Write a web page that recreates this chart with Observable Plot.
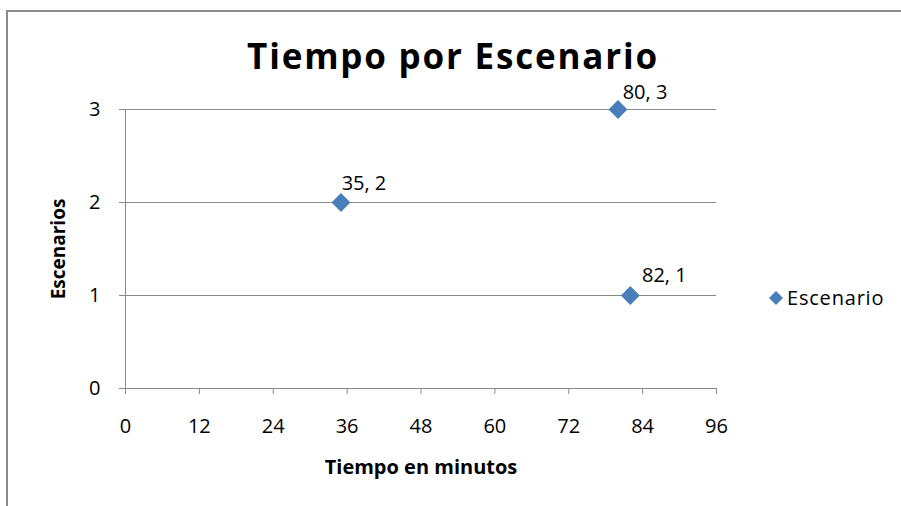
<!DOCTYPE html>
<html><head><meta charset="utf-8">
<script src="https://cdn.jsdelivr.net/npm/d3@7"></script>
<script src="https://cdn.jsdelivr.net/npm/@observablehq/plot@0.6"></script>
<style>
html,body{margin:0;padding:0;background:#fff;overflow:hidden;width:901px;height:506px;}
#wrap{position:relative;width:901px;height:506px;font-family:"Open Sans",sans-serif;}
#frame{position:absolute;left:6px;top:10px;width:1000px;height:600px;border-left:2px solid #8c8c8c;border-top:2px solid #8c8c8c;}
#title{position:absolute;left:0;width:906px;top:32px;text-align:center;font-weight:bold;font-size:35px;color:#000;letter-spacing:1.8px;}
#legend{position:absolute;left:768px;top:284px;font-size:20px;color:#000;display:flex;align-items:center;letter-spacing:0.8px;}
#legend svg{margin-right:3px;}
#chart{position:absolute;left:0;top:0;}
</style></head>
<body><div id="wrap"><div id="frame"></div><div id="chart"></div>
<div id="title">Tiempo por Escenario</div>
<div id="legend"><svg width="16" height="16"><path d="M8 1 L15 8 L8 15 L1 8 Z" fill="#4a7ebb"/></svg>Escenario</div>
</div>
<script>
const seriesName = "Escenario";
const tiempo = [82, 35, 80];
const escenario = [1, 2, 3];
const xTicks = [0, 12, 24, 36, 48, 60, 72, 84, 96];
const yTicks = [0, 1, 2, 3];
const xLabel = "Tiempo en minutos";
const yLabel = "Escenarios";

const data = tiempo.map((t, i) => ({x: t, y: escenario[i], label: `${t}, ${escenario[i]}`}));
const blue = "#4a7ebb";
const grid = "#8a8a8a";
const labelOffsets = [[34, -20], [23, -19], [27, -17]];

const plot = Plot.plot({
  width: 901, height: 506,
  marginLeft: 125, marginRight: 185, marginTop: 109, marginBottom: 118,
  style: {fontFamily: "'Open Sans', sans-serif", fontSize: "20px", color: "#000", background: "transparent"},
  x: {domain: [0, 96], label: null},
  y: {domain: [0, 3], label: null},
  marks: [
    Plot.ruleY(yTicks.filter(d => d > 0), {stroke: grid, strokeWidth: 1}),
    Plot.ruleY([0], {stroke: grid, strokeWidth: 1}),
    Plot.ruleX([0], {stroke: grid, strokeWidth: 1}),
    Plot.axisX({ticks: xTicks, tickSize: 6, tickPadding: 24, stroke: grid, fill: "#000", fontSize: 20, label: null, tickFormat: d => String(d)}),
    Plot.axisY({ticks: yTicks, tickSize: 6, tickPadding: 19, stroke: grid, fill: "#000", fontSize: 20, label: null, tickFormat: d => String(d)}),
    Plot.dot(data, {x: "x", y: "y", symbol: "diamond2", r: 8.5, fill: blue, stroke: null}),
    ...data.map((d, i) => Plot.text([d], {x: "x", y: "y", text: "label", dx: labelOffsets[i][0], dy: labelOffsets[i][1], fontSize: 20, fill: "#000", style: {letterSpacing: "0.8px"}})),
    Plot.text([xLabel], {frameAnchor: "bottom", dy: 85, fontWeight: "bold", fontSize: 20, fill: "#000"}),
    Plot.text([yLabel], {frameAnchor: "left", textAnchor: "middle", dx: -67, rotate: -90, fontWeight: "bold", fontSize: 19, fill: "#000"})
  ]
});
document.getElementById("chart").appendChild(plot);
</script>
</body></html>
